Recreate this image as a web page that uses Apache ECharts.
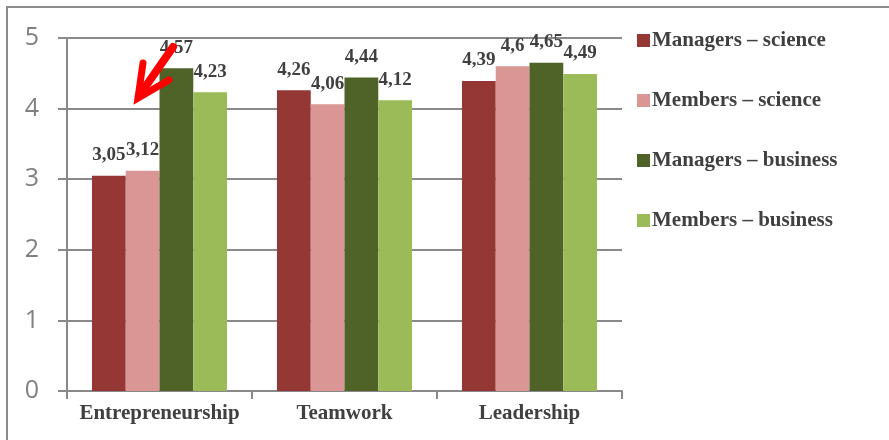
<!DOCTYPE html>
<html>
<head>
<meta charset="utf-8">
<script src="https://cdn.jsdelivr.net/npm/echarts@6/dist/echarts.min.js"></script>
<style>
  html, body { margin: 0; padding: 0; background: #fff; }
  #chart { width: 889px; height: 440px; }
</style>
</head>
<body>
<div id="chart"></div>
<script>
// Competence areas and mean scores per group
const categories = ['Entrepreneurship', 'Teamwork', 'Leadership'];
const seriesNames = ['Managers – science', 'Members – science', 'Managers – business', 'Members – business'];
const managersScience = [3.05, 4.26, 4.39];
const membersScience = [3.12, 4.06, 4.6];
const managersBusiness = [4.57, 4.44, 4.65];
const membersBusiness = [4.23, 4.12, 4.49];
const yTicks = [0, 1, 2, 3, 4, 5];

const colors = ['#953735', '#D99694', '#4F6228', '#9BBB59'];
const values = [managersScience, membersScience, managersBusiness, membersBusiness];
const serif = '"Liberation Serif", "Times New Roman", serif';
const gridGray = '#898989';

const chart = echarts.init(document.getElementById('chart'), null, { renderer: 'canvas' });

chart.setOption({
  animation: false,
  color: colors,
  grid: { left: 67, right: 267, top: 38, bottom: 49, containLabel: false },
  legend: {
    orient: 'vertical',
    left: 632,
    top: 25,
    itemGap: 39,
    itemWidth: 13,
    itemHeight: 13,
    icon: 'rect',
    textStyle: { fontFamily: serif, fontWeight: 'bold', fontSize: 21, lineHeight: 21, color: '#404040', padding: [0, 0, 0, -3] },
    data: seriesNames
  },
  xAxis: {
    type: 'category',
    data: categories,
    axisLine: { lineStyle: { color: gridGray, width: 2 } },
    axisTick: { show: true, interval: 0, length: 8, lineStyle: { color: gridGray, width: 2 } },
    axisLabel: { interval: 0, hideOverlap: false, fontFamily: serif, fontWeight: 'bold', fontSize: 21, color: '#404040', margin: 12 }
  },
  yAxis: {
    type: 'value',
    min: 0,
    max: 5,
    interval: 1,
    axisLine: { show: true, lineStyle: { color: gridGray, width: 2 } },
    axisTick: { show: true, length: 9, lineStyle: { color: gridGray, width: 2 } },
    splitLine: { show: true, lineStyle: { color: gridGray, width: 2 } },
    axisLabel: {
      fontFamily: '"Open Sans", "Liberation Sans", sans-serif',
      fontSize: 25,
      color: '#808080',
      margin: 28,
      formatter: v => yTicks.includes(v) ? String(v) : ''
    }
  },
  series: seriesNames.map((name, i) => ({
    name: name,
    type: 'bar',
    data: values[i],
    barGap: '0%',
    barCategoryGap: '27%',
    itemStyle: { color: colors[i] },
    label: {
      show: true,
      position: 'top',
      distance: 11,
      fontFamily: serif,
      fontWeight: 'bold',
      fontSize: 19,
      color: '#404040',
      formatter: p => String(p.value).replace('.', ',')
    }
  })),
  graphic: [
    // outer frame
    {
      type: 'rect',
      shape: { x: 7, y: 7, width: 900, height: 450 },
      style: { fill: 'none', stroke: '#8c8c8c', lineWidth: 2 },
      silent: true
    },
    // red arrow pointing at the first group
    {
      type: 'polyline',
      shape: { points: [[173, 47], [139, 96]] },
      style: { stroke: '#ff0000', lineWidth: 8, lineCap: 'round', fill: 'none' },
      z: 100
    },
    {
      type: 'polyline',
      shape: { points: [[143, 63], [138, 98], [169, 80]] },
      style: { stroke: '#ff0000', lineWidth: 7, lineCap: 'round', lineJoin: 'miter', fill: 'none' },
      z: 100
    }
  ]
});
</script>
</body>
</html>
